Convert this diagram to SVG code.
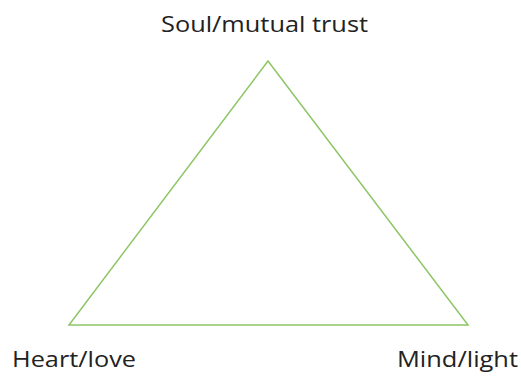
<svg xmlns="http://www.w3.org/2000/svg" width="521" height="377" viewBox="0 0 521 377">
<style>
.lbl{font-family:"Open Sans","Noto Sans","Liberation Sans",sans-serif;font-size:22px;fill:#222;}
.edge{fill:none;stroke:#8cc665;stroke-width:1.5;}
</style>
<rect width="521" height="377" fill="#fff"/>
<g id="connectors">
<polygon class="edge" points="268,61 468,325 69,325"/>
</g>
<g id="soul"><text class="lbl" x="264.5" y="31.5" text-anchor="middle" textLength="207" lengthAdjust="spacingAndGlyphs">Soul/mutual trust</text></g>
<g id="heart"><text class="lbl" x="12" y="367" textLength="124" lengthAdjust="spacingAndGlyphs">Heart/love</text></g>
<g id="mind"><text class="lbl" x="397" y="367" textLength="121" lengthAdjust="spacingAndGlyphs">Mind/light</text></g>
</svg>
